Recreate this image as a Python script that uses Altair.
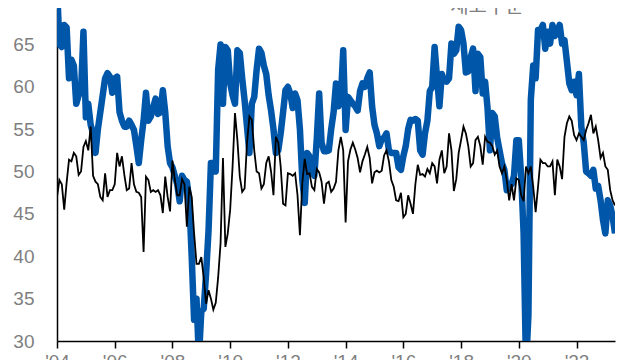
import altair as alt
import pandas as pd

# Monthly series, starting January 2004
start_year = 2004

new_orders = [
    72, 65, 64.7, 67.3, 67, 61, 63.2, 62.5, 58, 59, 59.5, 66.5,           # 2004
    56.4, 58, 55.5, 54.5, 52.2, 55, 57, 59, 61, 61.6, 61.2, 59.3,          # 2005
    61, 61.2, 57, 56, 55.3, 55.3, 56, 55.5, 54.9, 53, 51, 53.7,            # 2006
    56, 59.3, 56, 56.5, 57.6, 58.6, 56.8, 57, 59.6, 57, 53, 51,            # 2007
    50.5, 49.5, 48.5, 46.5, 49.5, 49, 48.8, 46.6, 40, 32.5, 35, 28,        # 2008
    33.5, 33.8, 38, 43, 51, 51, 50, 62, 65, 58, 64.7, 64.3,                # 2009
    60.4, 59, 58, 64.3, 64, 61, 58.4, 55.3, 52.2, 58, 58.8, 62,            # 2010
    64.5, 64, 62.5, 61.5, 59, 57.2, 55, 52.2, 52.5, 54.5, 57, 59.6,        # 2011
    60, 59.2, 57.5, 59.2, 58.4, 55, 49, 46.3, 52.2, 51.8, 50, 49.5,        # 2012
    53.8, 59.2, 53.4, 52.4, 52.4, 52.5, 55, 57, 60.4, 57.7, 58.5, 64.3,    # 2013
    54.9, 58.8, 58.4, 58, 57.7, 57.2, 59.5, 60.4, 60, 61, 61.7, 57.7,      # 2014
    55.5, 54.5, 53, 53.8, 54, 54.5, 52.5, 52.2, 52.2, 52.2, 50.5, 50.2,    # 2015
    51.8, 53, 55, 56.1, 56, 56.2, 56, 52.5, 52, 54.5, 56, 59.5,            # 2016
    60, 64.7, 61.1, 57.7, 61.5, 60.7, 60.6, 61, 65.1, 63.9, 64.3, 67.1,    # 2017
    66.7, 65.1, 61.7, 61.8, 63.5, 64.5, 59.5, 63.9, 63.5, 59.2, 60.6, 57.5,  # 2018
    52.5, 56.9, 56.5, 54, 52.5, 51, 50.2, 47.8, 48.2, 48.5, 49.5, 53.7,    # 2019
    53.7, 49.4, 42.7, 27, 33, 58.5, 62.5, 61, 66.7, 66.7, 67.3, 64.5,      # 2020
    66.5, 65.1, 67.3, 66, 66.5, 67.3, 65.1, 65.5, 63, 60.4, 59.6, 60.6,    # 2021
    59, 61.5, 55.3, 53.4, 50, 49.8, 49.5, 50.2, 48, 48.3, 46.6, 44.3,      # 2022
    42.7, 46.6, 46, 44.7, 42.7,                                            # 2023
]

inventories = [
    47, 49, 48.5, 45.5, 48.7, 51.4, 51.2, 52.2, 51.8, 49.6, 50, 52.9,      # 2004
    53.6, 52.5, 55.3, 49.5, 48.8, 48.5, 47, 46.6, 49.8, 47, 47.8, 47.8,    # 2005
    48.5, 52.2, 50.6, 51.8, 49.6, 47.8, 48, 51, 48.5, 47.6, 47.5, 47,      # 2006
    40.5, 49.4, 49, 47.6, 47.8, 47.6, 47.8, 47.2, 45.1, 49.4, 47, 45.3,    # 2007
    51.3, 49, 47.2, 47.2, 49.1, 48.5, 43.5, 48.2, 47, 42.7, 39.1, 39.1,    # 2008
    39.9, 37.5, 34.4, 36, 35, 33.7, 34.5, 37.5, 41.5, 51.6, 41.1, 42.7,    # 2009
    45.5, 50.6, 56.9, 53.7, 49.4, 47.6, 48, 53.4, 56.5, 56.1, 52.5, 50,    # 2010
    49.8, 48, 48.5, 51, 51.8, 50, 47.2, 54.1, 53.4, 50.6, 46.2, 46,        # 2011
    49.8, 49.7, 49.5, 49.8, 47.2, 42.5, 48.7, 51.5, 49.7, 49.8, 48.2, 47.8,  # 2012
    50.3, 49.9, 48.8, 46.2, 48.6, 48.8, 47.6, 48, 48.8, 52.5, 54.1, 52.5,  # 2013
    44, 51.2, 52.6, 53.4, 52.6, 51.6, 49.9, 51.2, 52, 52.9, 51.6, 48.6,    # 2014
    49.9, 50.1, 49.9, 50.1, 51.9, 52.5, 51.2, 49, 48.2, 46.6, 46.5, 47.5,  # 2015
    44.6, 45, 47.2, 46.2, 45, 48.5, 50.8, 49.6, 49.7, 49.4, 50.3, 49.8,    # 2016
    51, 50.6, 48.6, 51.4, 52.5, 49.8, 50.6, 54.5, 52.5, 47.7, 49.1, 52.2,  # 2017
    53.7, 55.3, 54.5, 53, 50.6, 51, 53.7, 54.1, 53, 50.8, 54.1, 53.5,      # 2018
    53.4, 53, 52, 52.5, 50.6, 49.8, 50.6, 49, 46.6, 48.5, 46.6, 49.2,      # 2019
    49, 47.2, 46.5, 50.6, 49.8, 50.6, 48.2, 45.2, 48.2, 51.4, 51, 51,      # 2020
    50.6, 50.6, 51.2, 47.2, 51.4, 50.6, 49.1, 54.1, 55.7, 56.5, 56, 54.3,  # 2021
    53.7, 54.5, 54.1, 53.7, 54.9, 55.7, 56.7, 54.5, 55.3, 53.7, 51.6, 52.2,  # 2022
    50.6, 50.2, 47.8, 46.6, 46,                                            # 2023
]

tick_years = [2004, 2006, 2008, 2010, 2012, 2014, 2016, 2018, 2020, 2022]
y_ticks = [30, 35, 40, 45, 50, 55, 60, 65]
legend_label = "재고수준"

n = len(new_orders)
t = [start_year + i / 12 for i in range(n)]
df_no = pd.DataFrame({"t": t, "v": new_orders})
df_inv = pd.DataFrame({"t": t, "v": inventories})

label_color = "#7f7f7f"

x_enc = alt.X(
    "t:Q",
    scale=alt.Scale(domain=[start_year, start_year + (n - 1) / 12], nice=False, zero=False),
    axis=alt.Axis(
        values=tick_years,
        labelExpr="\"'\" + substring(toString(datum.value), 2, 4)",
        title=None,
        grid=False,
        domainColor="black",
        domainWidth=1.5,
        ticks=True,
        tickColor="black",
        tickWidth=1.5,
        tickSize=7,
        labelPadding=4,
        labelFontSize=19,
        labelFont="Liberation Sans",
        labelColor=label_color,
        labelFlush=False,
        labelOverlap=False,
    ),
)

y_enc = alt.Y(
    "v:Q",
    scale=alt.Scale(domain=[30, 69.3], nice=False, zero=False),
    axis=alt.Axis(
        values=y_ticks,
        title=None,
        grid=False,
        domainColor="black",
        domainWidth=1.5,
        ticks=False,
        tickSize=0,
        labelPadding=23,
        labelFontSize=19,
        labelFont="Liberation Sans",
        labelColor=label_color,
        labelOverlap=False,
    ),
)

blue = alt.Chart(df_no).mark_line(
    color="#0057AA", strokeWidth=6.5, clip=True, strokeJoin="round"
).encode(x=x_enc, y=y_enc)

black = alt.Chart(df_inv).mark_line(
    color="black", strokeWidth=1.8, clip=True
).encode(x="t:Q", y="v:Q")

label = alt.Chart(pd.DataFrame({"label": [legend_label]})).mark_text(
    font="Noto Sans CJK KR", fontSize=20, color=label_color, align="center", baseline="alphabetic"
).encode(text="label:N", x=alt.value(430), y=alt.value(5))

chart = alt.layer(blue, black, label).properties(
    width=558,
    height=333,
    autosize=alt.AutoSizeParams(type="none"),
    padding={"left": 49, "top": 0, "right": 17, "bottom": 30},
).configure_view(strokeWidth=0)

chart.save("out.html", embed_options={"renderer": "svg", "actions": False})
